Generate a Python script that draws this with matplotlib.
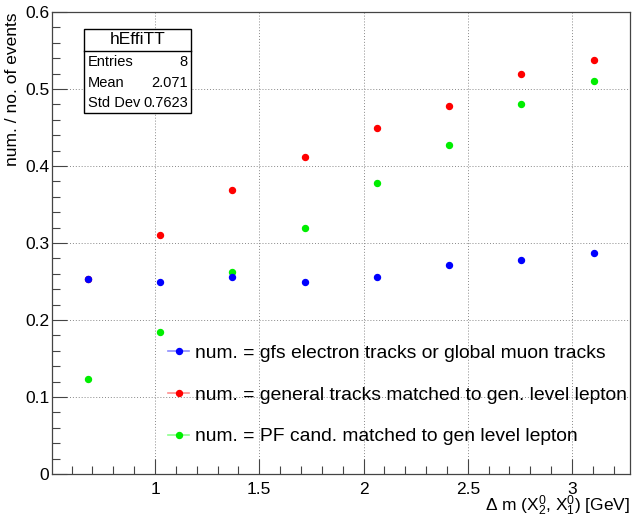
import matplotlib
matplotlib.use("Agg")
import matplotlib.pyplot as plt
from matplotlib.lines import Line2D
from matplotlib.patches import Rectangle
from matplotlib.ticker import MultipleLocator

# bin centres of the 8-bin histogram (delta m, GeV)
delta_m = [0.679, 1.025, 1.371, 1.718, 2.064, 2.410, 2.757, 3.103]

eff_gfs = [0.253, 0.249, 0.256, 0.249, 0.256, 0.271, 0.278, 0.287]
eff_general = [0.253, 0.310, 0.369, 0.412, 0.450, 0.478, 0.519, 0.538]
eff_pf = [0.123, 0.184, 0.262, 0.319, 0.378, 0.427, 0.481, 0.510]

labels = ["num. = gfs electron tracks or global muon tracks",
          "num. = general tracks matched to gen. level lepton",
          "num. = PF cand. matched to gen level lepton"]
colors = ["#0000ff", "#ff0000", "#00ee00"]
line_colors = ["#8c8cff", "#ff9090", "#8cff8c"]

stats_title = "hEffiTT"
stats_rows = [("Entries", "8"), ("Mean", "2.071"), ("Std Dev", "0.7623")]

plt.rcParams['font.family'] = ['Liberation Sans', 'DejaVu Sans']
plt.rcParams['mathtext.fontset'] = 'custom'
plt.rcParams['mathtext.rm'] = 'Liberation Sans'
plt.rcParams['mathtext.it'] = 'Liberation Sans:italic'


def draw_stats_box(fig):
    px = lambda x, y: (x / 633, 1 - y / 517)
    x0, y0 = px(84, 113)
    x1, y1 = px(191, 29)
    fig.patches.append(Rectangle((x0, y0), x1 - x0, y1 - y0, transform=fig.transFigure,
                                 facecolor='white', edgecolor='black', lw=1, zorder=5))
    fig.lines.append(Line2D([x0, x1], [px(0, 51)[1]] * 2, transform=fig.transFigure,
                            color='black', lw=1, zorder=6))
    fig.text((x0 + x1) / 2, px(0, 40)[1], stats_title, ha='center', va='center',
             fontsize=12.5, zorder=7)
    for i, (name, value) in enumerate(stats_rows):
        y = px(0, 62 + 20.7 * i)[1]
        fig.text(px(88, 0)[0], y, name, ha='left', va='center', fontsize=10.5, zorder=7)
        fig.text(px(188, 0)[0], y, value, ha='right', va='center', fontsize=10.5, zorder=7)


def main() -> None:
    fig = plt.figure(figsize=(6.33, 5.17), dpi=100)
    ax = fig.add_axes([52 / 633, 43 / 517, 578 / 633, 462 / 517])

    series = [eff_gfs, eff_general, eff_pf]
    # red and green first so blue sits on top where they overlap
    for idx in (1, 2, 0):
        ax.plot(delta_m, series[idx], linestyle='none', marker='o', ms=4.3,
                color=colors[idx], zorder=4)

    ax.set_xlim(0.506, 3.278)
    ax.set_ylim(0, 0.6)
    ax.xaxis.set_major_locator(MultipleLocator(0.5))
    ax.xaxis.set_minor_locator(MultipleLocator(0.1))
    ax.yaxis.set_major_locator(MultipleLocator(0.1))
    ax.yaxis.set_minor_locator(MultipleLocator(0.02))
    ax.set_xticks([1, 1.5, 2, 2.5, 3])
    ax.set_xticklabels(["1", "1.5", "2", "2.5", "3"])
    ax.set_yticks([0, 0.1, 0.2, 0.3, 0.4, 0.5, 0.6])
    ax.set_yticklabels(["0", "0.1", "0.2", "0.3", "0.4", "0.5", "0.6"])

    ax.tick_params(which='both', direction='in', top=False, right=False,
                   color='#444444', labelsize=12.5)
    ax.tick_params(which='major', length=11, width=0.8)
    ax.tick_params(which='minor', length=5.5, width=0.8)
    ax.tick_params(axis='x', pad=6)
    ax.tick_params(axis='y', pad=2)
    for spine in ax.spines.values():
        spine.set_color('#444444')
        spine.set_linewidth(0.9)

    ax.grid(True, which='major', color='#888888', linestyle=(0, (1, 2)), linewidth=0.7)
    ax.set_axisbelow(True)

    ax.set_xlabel(r"$\Delta$ m (X$_2^0$, X$_1^0$) [GeV]", fontsize=12.5, ha='right')
    ax.xaxis.set_label_coords(1.0, -0.042)
    ax.set_ylabel("num. / no. of events", fontsize=12.5, loc='top')
    ax.yaxis.set_label_coords(-0.055, 1.0)

    handles = [Line2D([], [], color=lc, lw=1.2, marker='o', ms=4.3,
                      markerfacecolor=c, markeredgecolor=c)
               for c, lc in zip(colors, line_colors)]
    ax.legend(handles, labels, loc='center left', frameon=False, fontsize=13.9,
              bbox_to_anchor=(168 / 633, 1 - 395 / 517),
              bbox_transform=fig.transFigure, borderpad=0, borderaxespad=0,
              handlelength=1.1, handletextpad=0.3, labelspacing=1.25)

    draw_stats_box(fig)
    fig.savefig("out.png", dpi=100)


if __name__ == "__main__":
    main()
